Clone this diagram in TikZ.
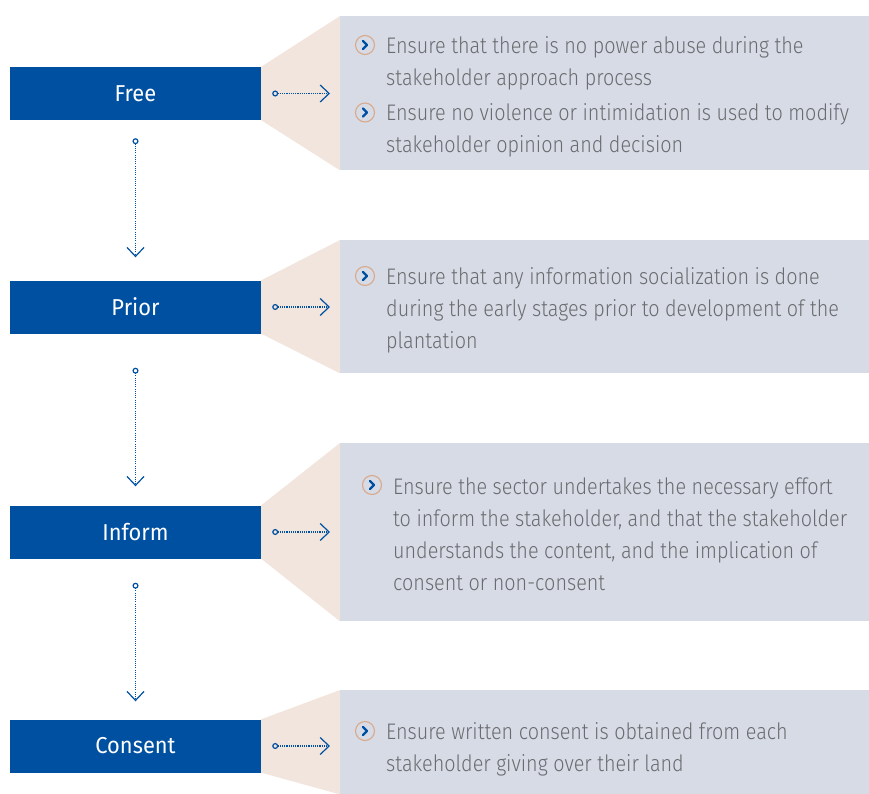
\documentclass[tikz,border=0pt]{standalone}
\usepackage{fontspec}
\setmainfont{Fira Sans}[UprightFont=* Light, BoldFont=*, FakeStretch=0.88]
\newfontfamily\labelfont{Fira Sans}[FakeStretch=0.95]
\usetikzlibrary{arrows.meta,calc}
\definecolor{fpblue}{HTML}{0050A2}
\definecolor{fppanel}{HTML}{D6DBE6}
\definecolor{fptrap}{HTML}{F1E5DD}
\definecolor{fptext}{HTML}{6A6B6E}
\definecolor{fptan}{HTML}{D9A98A}
\tikzset{
  stepbox/.style={fill=fpblue, text=white, minimum width=251pt, minimum height=53pt, inner sep=0pt, font=\labelfont\fontsize{23}{27}\selectfont},
  panel/.style={fill=fppanel, inner sep=0pt, anchor=north west},
  txt/.style={anchor=base west, inner sep=0pt, text=fptext, font=\fontsize{22.5}{27}\selectfont},
  bul/.style={circle, draw=fptan, line width=1.1pt, minimum size=19pt, inner sep=0pt,
    path picture={\draw[fpblue, line width=2.4pt, line cap=round, line join=round]
      ($(path picture bounding box.center)+(-2pt,-4pt)$) -- ($(path picture bounding box.center)+(2pt,0pt)$) -- ($(path picture bounding box.center)+(-2pt,4pt)$);}},
  conn/.style={fpblue, line width=1.1pt, dash pattern=on 1.1pt off 1.1pt,
    {Circle[open,length=6pt,width=6pt,line width=1.2pt,sep=0pt]}-{Straight Barb[length=9pt,width=17pt,line width=1.2pt]}},
}
\begin{document}
\begin{tikzpicture}[x=1pt,y=-1pt]
\useasboundingbox (0,0) rectangle (869,794);
% panels
\node[panel, minimum width=529pt, minimum height=154pt] (freep) at (340,16) {};
\node[panel, minimum width=529pt, minimum height=133pt] (priorp) at (340,240) {};
\node[panel, minimum width=529pt, minimum height=178pt] (informp) at (340,443) {};
\node[panel, minimum width=529pt, minimum height=104pt] (consentp) at (340,690) {};
% boxes
\node[stepbox] (free) at (135.5,93.5) {Free};
\node[stepbox] (prior) at (135.5,307) {Prior};
\node[stepbox] (inform) at (135.5,532) {Inform};
\node[stepbox] (consent) at (135.5,746) {Consent};
% trapezoids
\fill[fptrap] (free.north east) -- (freep.north west) -- (freep.south west) -- (free.south east) -- cycle;
\fill[fptrap] (prior.north east) -- (priorp.north west) -- (priorp.south west) -- (prior.south east) -- cycle;
\fill[fptrap] (inform.north east) -- (informp.north west) -- (informp.south west) -- (inform.south east) -- cycle;
\fill[fptrap] (consent.north east) -- (consentp.north west) -- (consentp.south west) -- (consent.south east) -- cycle;
% horizontal connectors
\draw[conn, shorten <=11pt, shorten >=10pt] (free.east) -- (free.east -| freep.west);
\draw[conn, shorten <=11pt, shorten >=10pt] (prior.east) -- (prior.east -| priorp.west);
\draw[conn, shorten <=11pt, shorten >=10pt] (inform.east) -- (inform.east -| informp.west);
\draw[conn, shorten <=11pt, shorten >=10pt] (consent.east) -- (consent.east -| consentp.west);
% vertical connectors
\draw[conn, shorten <=18pt, shorten >=23pt] (free.south) -- (prior.north);
\draw[conn, shorten <=34pt, shorten >=19pt] (prior.south) -- (inform.north);
\draw[conn, shorten <=24pt, shorten >=18pt] (inform.south) -- (consent.north);
% Free texts
\node[bul] (fb1) at (365,45) {};
\node[txt] (ft1) at (386,53.5) {Ensure that there is no power abuse during the};
\node[txt] (ft2) at (386,86) {stakeholder approach process};
\node[bul] (fb2) at (365,112.5) {};
\node[txt] (ft3) at (386,121) {Ensure no violence or intimidation is used to modify};
\node[txt] (ft4) at (386,153) {stakeholder opinion and decision};
% Prior texts
\node[bul] (pb1) at (365,276) {};
\node[txt] (pt1) at (386,284.5) {Ensure that any information socialization is done};
\node[txt] (pt2) at (386,316.5) {during the early stages prior to development of the};
\node[txt] (pt3) at (386,348.5) {plantation};
% Inform texts
\node[bul] (ib1) at (372,485) {};
\node[txt] (it1) at (393,494.5) {Ensure the sector undertakes the necessary effort};
\node[txt] (it2) at (393,526.5) {to inform the stakeholder, and that the stakeholder};
\node[txt] (it3) at (393,558.5) {understands the content, and the implication of};
\node[txt] (it4) at (393,590.5) {consent or non-consent};
% Consent texts
\node[bul] (cb1) at (365,731) {};
\node[txt] (ct1) at (386,739.5) {Ensure written consent is obtained from each};
\node[txt] (ct2) at (386,771.5) {stakeholder giving over their land};
\end{tikzpicture}
\end{document}
